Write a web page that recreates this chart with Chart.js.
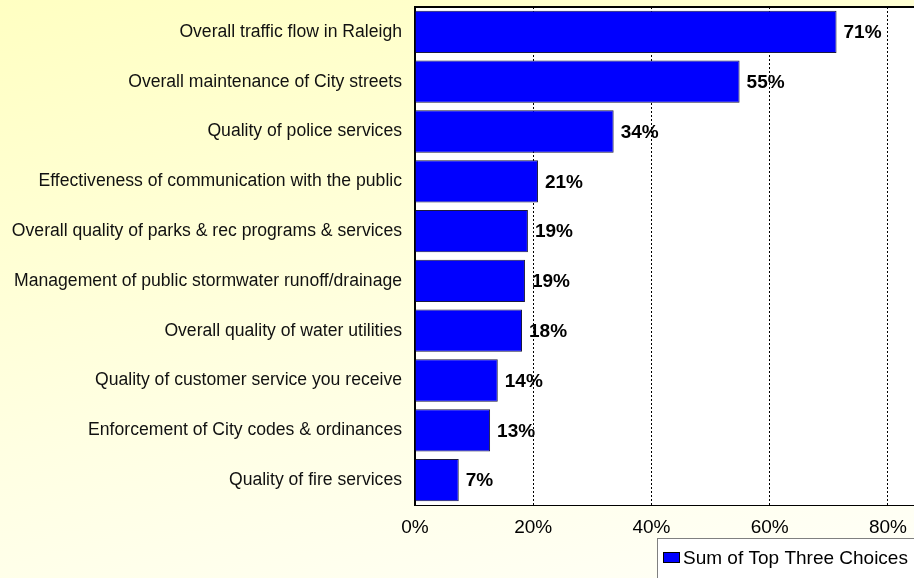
<!DOCTYPE html>
<html>
<head>
<meta charset="utf-8">
<script src="https://cdn.jsdelivr.net/npm/chart.js@4/dist/chart.umd.min.js"></script>
<style>
  html, body { margin: 0; padding: 0; }
  body {
    width: 914px; height: 578px; overflow: hidden;
    background: linear-gradient(165deg, #ffffc2 0%, #ffffe2 55%, #fffff8 100%);
  }
  #chart { display: block; }
</style>
</head>
<body>
<canvas id="chart" width="914" height="578"></canvas>
<script>
const categories = [
  'Overall traffic flow in Raleigh',
  'Overall maintenance of City streets',
  'Quality of police services',
  'Effectiveness of communication with the public',
  'Overall quality of parks & rec programs & services',
  'Management of public stormwater runoff/drainage',
  'Overall quality of water utilities',
  'Quality of customer service you receive',
  'Enforcement of City codes & ordinances',
  'Quality of fire services'
];
const values = [71.3, 54.9, 33.6, 20.8, 19.1, 18.6, 18.1, 14.0, 12.7, 7.4];
const valueLabels = ['71%', '55%', '34%', '21%', '19%', '19%', '18%', '14%', '13%', '7%'];
const xTicks = [0, 20, 40, 60, 80];
const seriesName = 'Sum of Top Three Choices';

const fontFamily = '"Liberation Sans", Arial, sans-serif';

// white plot area + top border
const plotBg = {
  id: 'plotBg',
  beforeDraw(chart) {
    const a = chart.chartArea, ctx = chart.ctx;
    ctx.save();
    ctx.fillStyle = '#ffffff';
    ctx.fillRect(a.left, a.top, a.right - a.left, a.bottom - a.top);
    ctx.restore();
  },
  afterDraw(chart) {
    const a = chart.chartArea, ctx = chart.ctx;
    ctx.save();
    ctx.strokeStyle = '#000';
    ctx.lineWidth = 2;
    ctx.beginPath();
    ctx.moveTo(a.left, a.top);
    ctx.lineTo(a.right, a.top);
    ctx.stroke();
    ctx.restore();
  }
};

// bold value labels at the end of each bar
const barLabels = {
  id: 'barLabels',
  afterDatasetsDraw(chart) {
    const ctx = chart.ctx;
    const meta = chart.getDatasetMeta(0);
    ctx.save();
    ctx.font = 'bold 19px ' + fontFamily;
    ctx.fillStyle = '#000';
    ctx.textAlign = 'left';
    ctx.textBaseline = 'middle';
    meta.data.forEach((bar, i) => {
      ctx.fillText(valueLabels[i], bar.x + 7, bar.y + 1);
    });
    ctx.restore();
  }
};

// boxed legend in the bottom right corner
const boxLegend = {
  id: 'boxLegend',
  afterDraw(chart) {
    const ctx = chart.ctx;
    const x = 657, y = 538;
    ctx.save();
    ctx.fillStyle = '#ffffff';
    ctx.fillRect(x, y, 270, 50);
    ctx.strokeStyle = '#808080';
    ctx.lineWidth = 1;
    ctx.strokeRect(x + 0.5, y + 0.5, 270, 50);
    ctx.fillStyle = '#0000ff';
    ctx.fillRect(663, 552, 16, 10);
    ctx.strokeStyle = '#000';
    ctx.strokeRect(663.5, 552.5, 16, 10);
    ctx.fillStyle = '#000';
    ctx.font = '19px ' + fontFamily;
    ctx.textBaseline = 'middle';
    ctx.fillText(seriesName, 683, 559);
    ctx.restore();
  }
};

new Chart(document.getElementById('chart'), {
  type: 'bar',
  data: {
    labels: categories,
    datasets: [{
      label: seriesName,
      data: values,
      backgroundColor: '#0000ff',
      borderColor: '#1a1a40',
      borderWidth: 1,
      barPercentage: 0.85,
      categoryPercentage: 1
    }]
  },
  options: {
    indexAxis: 'y',
    responsive: false,
    animation: false,
    layout: { padding: { top: 7, left: 0, right: 0, bottom: 0 } },
    plugins: {
      legend: { display: false },
      tooltip: { enabled: false }
    },
    scales: {
      x: {
        min: 0,
        max: 84.4,
        afterBuildTicks(axis) {
          axis.ticks = xTicks.map(v => ({ value: v }));
        },
        afterFit(scale) {
          scale.height = 73;
          scale.paddingLeft = 0;
          scale.paddingRight = 0;
        },
        ticks: {
          callback: v => v + '%',
          color: '#000',
          padding: 11,
          font: { family: fontFamily, size: 19 }
        },
        grid: { color: '#000', lineWidth: 1, drawTicks: false },
        border: { display: true, color: '#000', width: 1, dash: [2, 2] }
      },
      y: {
        afterFit(scale) {
          scale.width = 415;
          scale.paddingTop = 0;
          scale.paddingBottom = 0;
        },
        ticks: {
          color: '#111',
          padding: 13,
          font: { family: fontFamily, size: 17.6 }
        },
        grid: { display: false, drawTicks: false },
        border: { display: true, color: '#000', width: 2 }
      }
    }
  },
  plugins: [plotBg, barLabels, boxLegend]
});
</script>
</body>
</html>
